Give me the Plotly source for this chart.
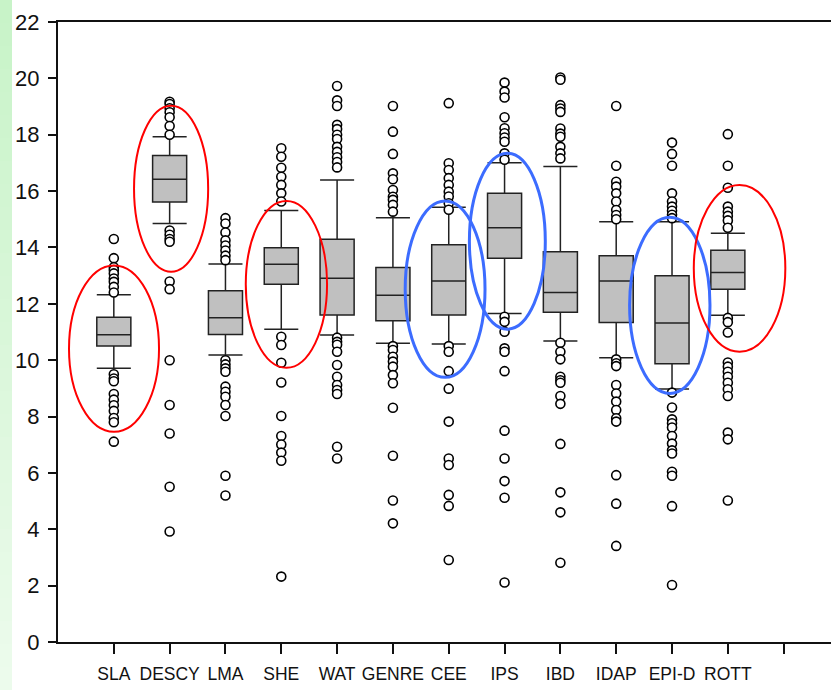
import plotly.graph_objects as go

# Trait names along the x axis (one extra blank tick position after the last one)
categories = ["SLA", "DESCY", "LMA", "SHE", "WAT", "GENRE", "CEE", "IPS", "IBD", "IDAP", "EPI-D", "ROTT"]

# Box statistics per trait
q1 = [10.50, 15.61, 10.91, 12.69, 11.60, 11.40, 11.60, 13.62, 11.70, 11.34, 9.87, 12.52]
median = [10.90, 16.42, 11.51, 13.40, 12.91, 12.30, 12.81, 14.70, 12.40, 12.81, 11.32, 13.11]
q3 = [11.52, 17.26, 12.46, 13.99, 14.29, 13.29, 14.10, 15.92, 13.85, 13.71, 13.00, 13.90]
lower_whisker = [9.71, 14.85, 10.18, 11.10, 10.89, 10.60, 10.57, 11.66, 10.68, 10.09, 8.98, 11.59]
upper_whisker = [12.32, 17.93, 13.41, 15.31, 16.39, 15.05, 15.43, 17.01, 16.87, 14.91, 14.91, 14.50]

# Points beyond the whiskers
out_sla = [14.3, 13.62, 13.3, 13.2, 13.08, 12.9, 12.78, 12.6, 12.4,
           9.5, 9.35, 9.25, 8.8, 8.6, 8.4, 8.2, 7.95, 7.8, 7.11]
out_descy = [19.17, 19.09, 18.94, 18.8, 18.62, 18.31, 18.0,
             14.6, 14.45, 14.3, 14.2, 12.79, 12.52, 10.0, 8.41, 7.4, 5.51, 3.92]
out_lma = [15.04, 14.85, 14.53, 14.25, 14.07, 13.89, 13.71, 13.55,
           10.0, 9.85, 9.71, 9.59, 9.06, 8.88, 8.7, 8.41, 8.02, 5.9, 5.2]
out_she = [17.52, 17.22, 16.83, 16.51, 16.22, 15.92, 15.63,
           10.83, 10.54, 9.91, 9.21, 8.02, 7.31, 7.01, 6.72, 6.43, 2.32]
out_wat = [19.73, 19.22, 19.02, 18.35, 18.2, 18.0, 17.85, 17.57, 17.39, 17.2, 17.03, 16.84,
           10.8, 10.65, 10.55, 10.3, 9.83, 9.41, 9.12, 8.94, 8.8, 6.93, 6.51]
out_genre = [19.02, 18.11, 17.32, 16.63, 16.42, 16.04, 15.8, 15.69, 15.51, 15.27,
             10.5, 10.36, 10.12, 9.95, 9.77, 9.47, 9.18, 8.31, 6.61, 5.02, 4.21]
out_cee = [19.12, 16.99, 16.75, 16.46, 16.22, 15.98, 15.81, 15.57, 15.34,
           10.5, 10.3, 9.61, 8.99, 7.82, 6.51, 6.28, 5.22, 4.83, 2.91]
out_ips = [19.85, 19.53, 19.32, 18.62, 18.23, 18.05, 17.9, 17.75, 17.34, 17.11,
           11.54, 11.36, 11.01, 10.42, 10.3, 9.61, 7.5, 6.51, 5.71, 5.12, 2.11]
out_ibd = [20.03, 19.95, 19.05, 18.93, 18.81, 18.22, 18.04, 17.93, 17.57, 17.34, 17.16,
           10.62, 10.3, 10.03, 9.41, 9.29, 9.2, 8.73, 8.45, 7.03, 5.31, 4.6, 2.81]
out_idap = [19.02, 16.9, 16.33, 16.16, 15.92, 15.63, 15.33, 15.15, 15.0,
            10.03, 9.89, 9.79, 9.12, 8.82, 8.53, 8.23, 7.94, 7.82, 5.92, 4.91, 3.41]
out_epid = [17.72, 17.32, 16.9, 15.92, 15.63, 15.45, 15.3, 15.16, 15.04,
            8.85, 8.32, 7.9, 7.76, 7.61, 7.31, 7.04, 6.8, 6.69, 6.04, 5.9, 4.82, 2.02]
out_rott = [18.02, 16.9, 16.12, 15.45, 15.27, 15.12, 14.96, 14.7,
            11.5, 11.35, 10.98, 9.92, 9.77, 9.59, 9.41, 9.2, 8.97, 8.73, 7.43, 7.19, 5.02]

outliers = [out_sla, out_descy, out_lma, out_she, out_wat, out_genre,
            out_cee, out_ips, out_ibd, out_idap, out_epid, out_rott]

# Highlight ellipses: (x0, x1, y0, y1, colour, width)
highlights = [
    (0.197, 1.81, 7.46, 13.36, "#ff0000", 2),
    (1.362, 2.69, 13.14, 19.03, "#ff0000", 2),
    (3.364, 4.82, 9.73, 15.65, "#ff0000", 2),
    (6.22, 7.65, 9.39, 15.65, "#3c6cff", 3),
    (7.37, 8.73, 11.1, 17.34, "#3c6cff", 3),
    (10.24, 11.68, 8.82, 15.07, "#3c6cff", 3),
    (11.39, 13.03, 10.30, 16.22, "#ff0000", 2),
]

W, H = 831, 690
ML, MR, MT, MB = 58, 0, 22, 48
pos = list(range(1, len(categories) + 1))

fig = go.Figure()

for i, p in enumerate(pos):
    fig.add_trace(go.Box(
        x=[p], q1=[q1[i]], median=[median[i]], q3=[q3[i]],
        lowerfence=[lower_whisker[i]], upperfence=[upper_whisker[i]],
        width=0.61, whiskerwidth=1.0, boxpoints=False,
        fillcolor="#c0c0c0", line=dict(color="#222222", width=1.5),
        showlegend=False, hoverinfo="skip",
    ))

for i, p in enumerate(pos):
    fig.add_trace(go.Scatter(
        x=[p] * len(outliers[i]), y=outliers[i], mode="markers",
        marker=dict(symbol="circle", size=9, color="white",
                    line=dict(color="black", width=1.6)),
        showlegend=False, hoverinfo="skip",
    ))

shapes = []
for x0, x1, y0, y1, col, lw in highlights:
    shapes.append(dict(type="circle", xref="x", yref="y", x0=x0, x1=x1, y0=y0, y1=y1,
                       line=dict(color=col, width=lw), layer="above"))

# light green strip down the left edge of the page
pw, ph = W - ML - MR, H - MT - MB
n_bands = 30
top_rgb = (200, 243, 200)
bot_rgb = (236, 251, 236)
for k in range(n_bands):
    t = k / (n_bands - 1)
    c = tuple(round(top_rgb[j] + (bot_rgb[j] - top_rgb[j]) * t) for j in range(3))
    ya = 1 + MT / ph - k * (H / ph) / n_bands
    yb = ya - (H / ph) / n_bands
    shapes.append(dict(type="rect", xref="paper", yref="paper",
                       x0=-ML / pw, x1=(12 - ML) / pw, y0=yb - 0.002, y1=ya,
                       fillcolor="rgb(%d,%d,%d)" % c, line=dict(width=0), layer="below"))

fig.update_layout(
    width=W, height=H,
    margin=dict(l=ML, r=MR, t=MT, b=MB, pad=0),
    paper_bgcolor="white", plot_bgcolor="white",
    shapes=shapes,
    font=dict(family="Liberation Sans, Arial, sans-serif", color="#111111"),
    xaxis=dict(
        range=[0, pw / 55.82], tickmode="array",
        tickvals=pos + [len(pos) + 1], ticktext=categories + [""],
        ticks="outside", ticklen=10, tickwidth=1.5, tickcolor="#111111",
        showline=True, linewidth=2, linecolor="#111111", mirror=True,
        showgrid=False, zeroline=False, ticklabelstandoff=5,
        tickfont=dict(size=17.5, color="#111111"),
    ),
    yaxis=dict(
        range=[0, 22], tickmode="array", tickvals=list(range(0, 23, 2)),
        ticks="outside", ticklen=8, tickwidth=1.5, tickcolor="#111111",
        showline=True, linewidth=2, linecolor="#111111",
        showgrid=False, zeroline=False, ticklabelstandoff=4,
        tickfont=dict(size=22, color="#111111"),
    ),
)

fig.write_html("out.html")
